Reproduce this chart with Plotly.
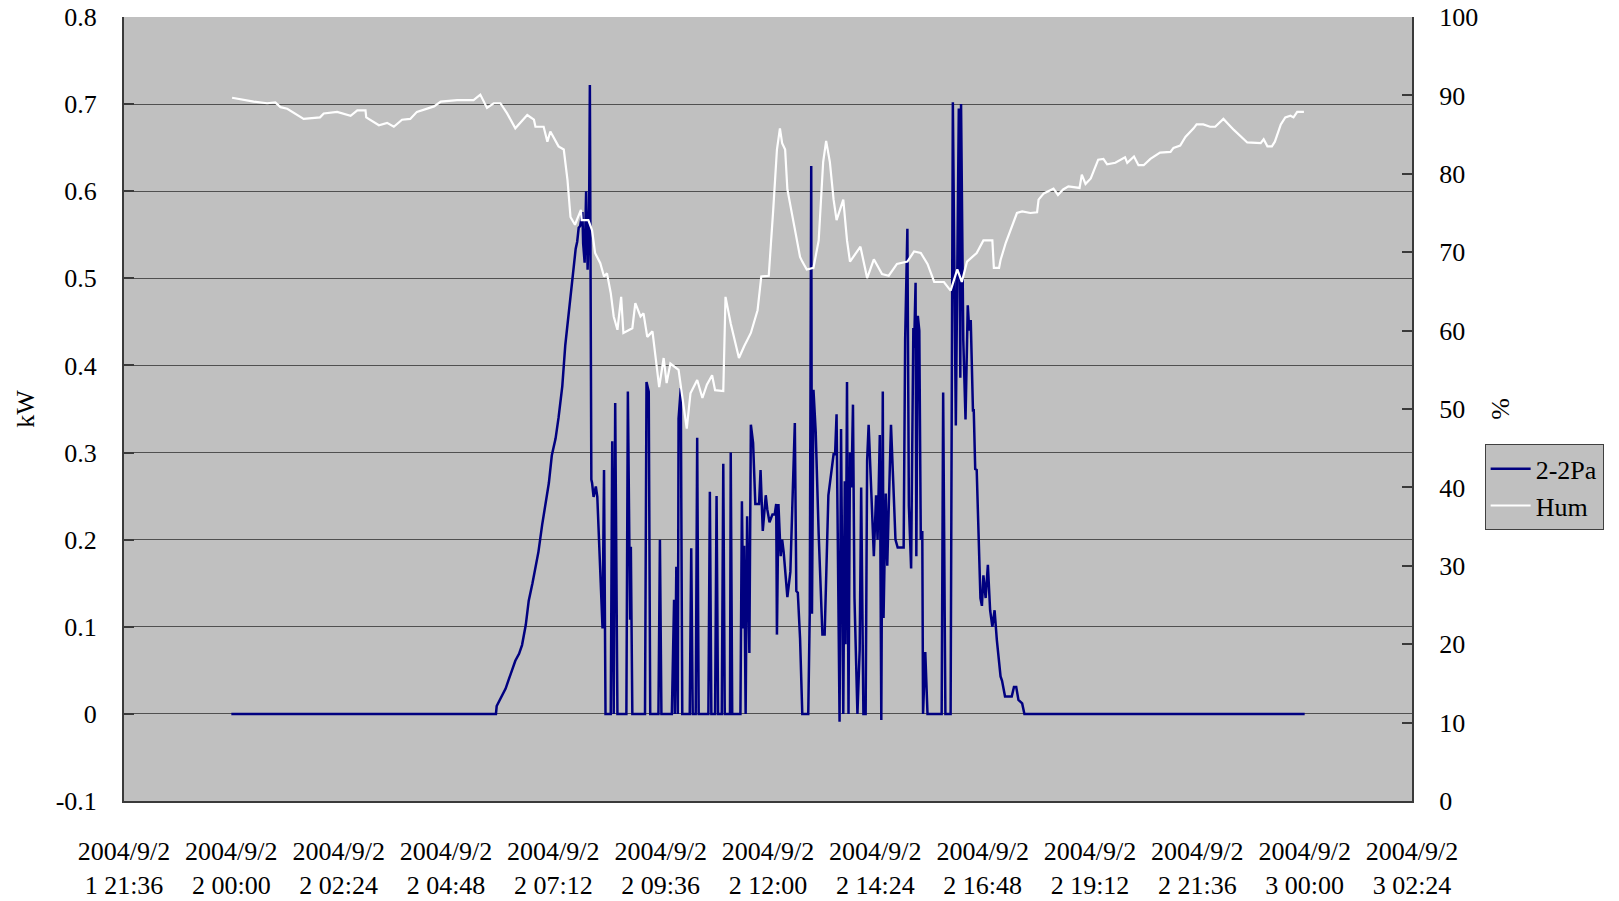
import plotly.graph_objects as go

# ---- data (time in minutes after 2004/9/22 00:00) ----
pa_minutes = [0, 352, 355, 356, 362, 368, 372, 377, 381, 386, 390, 395, 399, 404, 408, 412, 417, 421,
              426, 430, 435, 439, 444, 448, 453, 455, 459, 462, 464, 466, 468, 471, 472, 474, 476,
              478, 480, 481, 483, 484, 486, 489, 491, 494, 498, 500, 502, 509, 511, 513, 515, 518,
              530, 532, 535, 536, 538, 555, 557, 560, 562, 573, 575, 577, 591, 594, 595, 597, 599,
              600, 603, 605, 615, 617, 619, 623, 625, 627, 640, 642, 644, 649, 651, 653, 658, 660,
              662, 669, 670, 672, 683, 685, 687, 688, 690, 692, 695, 697, 700, 703, 708, 710, 713,
              717, 719, 722, 726, 729, 731, 732, 734, 737, 739, 741, 746, 750, 756, 758, 760, 763,
              766, 774, 776, 778, 779, 781, 784, 788, 793, 796, 801, 808, 810, 812, 814, 816, 818,
              821, 823, 824, 826, 828, 830, 832, 834, 836, 840, 843, 845, 848, 851, 853, 855, 860,
              862, 865, 867, 870, 872, 874, 875, 878, 880, 882, 885, 888, 891, 894, 902, 904, 907,
              909, 912, 915, 916, 918, 919, 921, 923, 925, 927, 928, 931, 934, 953, 955, 958, 965,
              968, 972, 976, 978, 979, 982, 985, 988, 990, 992, 995, 996, 998, 1000, 1005, 1007,
              1009, 1012, 1015, 1018, 1021, 1024, 1027, 1032, 1034, 1038, 1047, 1050, 1053, 1056,
              1061, 1064, 1440]
pa_kw = [0, 0, 0, 0.009, 0.019, 0.029, 0.039, 0.051, 0.061, 0.069, 0.079, 0.102, 0.130, 0.150, 0.166,
         0.186, 0.217, 0.241, 0.265, 0.297, 0.316, 0.340, 0.376, 0.423, 0.463, 0.472, 0.510, 0.534,
         0.542, 0.558, 0.560, 0.576, 0.540, 0.518, 0.600, 0.510, 0.580, 0.722, 0.269, 0.265, 0.249,
         0.261, 0.249, 0.178, 0.098, 0.280, 0, 0, 0.313, 0, 0.357, 0,
         0, 0.370, 0.108, 0.192, 0, 0, 0.381, 0.370, 0, 0, 0.200, 0, 0, 0.131, 0, 0.169, 0,
         0.339, 0.374, 0, 0, 0.190, 0, 0, 0.317, 0, 0, 0.255, 0, 0, 0.250, 0, 0, 0.287,
         0, 0, 0.300, 0, 0, 0.244, 0.098, 0.193, 0, 0.227, 0.070, 0.332, 0.311, 0.241, 0.241, 0.280, 0.210,
         0.251, 0.235, 0.220, 0.229, 0.229, 0.241, 0.091, 0.241, 0.181, 0.200, 0.186, 0.134, 0.163, 0.334, 0.141, 0.139, 0.087,
         0, 0, 0.115, 0.629, 0.115, 0.372, 0.324, 0.206, 0.091, 0.091, 0.251, 0.298, 0.298, 0.344, 0.150, -0.009, 0.327,
         0, 0.267, 0.080, 0.381, 0, 0.300, 0.260, 0.355, 0.134, 0, 0.074, 0.260, 0, 0, 0.291, 0.332, 0.220,
         0.181, 0.251, 0.200, 0.320, -0.007, 0.370, 0.110, 0.253, 0.170, 0.237, 0.332, 0.267, 0.200, 0.191, 0.191, 0.430, 0.557,
         0.239, 0.167, 0.443, 0.420, 0.495, 0.181, 0.457, 0.440, 0.200, 0.210, 0, 0.071, 0, 0, 0.369, 0, 0,
         0.702, 0.331, 0.695, 0.386, 0.700, 0.429, 0.338, 0.469, 0.440, 0.452, 0.347, 0.350, 0.281, 0.280, 0.133, 0.124,
         0.159, 0.133, 0.171, 0.119, 0.100, 0.119, 0.085, 0.043, 0.038, 0.020, 0.020, 0.031, 0.031, 0.016,
         0.012, 0, 0]

hum_minutes = [1, 30, 48, 59, 66, 75, 97, 119, 124, 142, 160, 169, 180, 181, 198, 209, 218, 229, 240,
               249, 272, 281, 303, 325, 334, 343, 352, 361, 370, 381, 397, 406, 408, 415, 419, 424,
               428, 439, 446, 451, 455, 461, 469, 470, 479, 484, 488, 495, 500, 504, 509, 513, 518,
               523, 526, 538, 542, 549, 553, 558, 565, 574, 580, 584, 589, 600, 607, 611, 616, 625,
               632, 638, 645, 649, 660, 663, 670, 681, 688, 697, 706, 711, 721, 723, 727, 732, 736,
               739, 743, 746, 754, 763, 766, 772, 781, 788, 794, 798, 803, 808, 812, 821, 826, 830,
               844, 853, 862, 873, 882, 893, 907, 916, 925, 934, 943, 956, 965, 974, 980, 987, 1000,
               1009, 1021, 1023, 1030, 1032, 1039, 1045, 1054, 1061, 1072, 1081, 1083, 1090, 1103,
               1109, 1116, 1123, 1138, 1141, 1146, 1153, 1163, 1170, 1175, 1186, 1199, 1202, 1211,
               1217, 1224, 1233, 1246, 1260, 1264, 1273, 1280, 1291, 1295, 1304, 1313, 1320, 1331,
               1338, 1345, 1363, 1381, 1385, 1390, 1396, 1400, 1408, 1414, 1421, 1425, 1430, 1439]
hum_pct = [89.7, 89.2, 89.0, 89.1, 88.5, 88.3, 87.0, 87.2, 87.7, 87.9, 87.4, 88.1, 88.1, 87.2, 86.2,
           86.5, 86.0, 86.9, 87.0, 87.9, 88.6, 89.2, 89.4, 89.4, 90.1, 88.4, 89.0, 89.0, 87.7, 85.8,
           87.5, 86.9, 86.0, 86.0, 86.0, 84.1, 85.4, 83.5, 83.1, 79.2, 74.5, 73.5, 75.4, 74.1, 74.1,
           72.8, 69.9, 68.6, 66.9, 67.3, 64.8, 61.8, 60.1, 64.3, 59.7, 60.3, 63.5, 61.8, 62.2, 59.2,
           59.9, 52.8, 56.5, 53.3, 55.8, 55.0, 50.3, 47.5, 52.0, 53.7, 51.4, 53.1, 54.3, 52.4, 52.3,
           64.3, 60.9, 56.5, 58.0, 59.7, 62.6, 66.9, 67.0, 70.3, 75.4, 83.1, 85.8, 83.9, 83.1, 78.0,
           74.1, 69.4, 68.8, 67.8, 68.0, 71.5, 81.5, 84.2, 81.5, 76.7, 74.1, 76.7, 71.5, 68.8, 70.7,
           66.7, 69.1, 67.2, 67.0, 68.5, 68.8, 70.1, 69.9, 68.5, 66.2, 66.2, 65.1, 67.8, 66.2, 68.8,
           69.9, 71.5, 71.5, 68.0, 68.0, 69.0, 71.2, 72.8, 75.0, 75.2, 75.0, 75.1, 76.7, 77.5, 78.1,
           77.3, 78.0, 78.4, 78.2, 79.9, 78.7, 79.4, 81.8, 81.9, 81.2, 81.4, 82.1, 81.4, 82.2, 81.1,
           81.1, 81.9, 82.7, 82.8, 83.3, 83.6, 84.7, 85.8, 86.3, 86.3, 86.0, 86.0, 87.0, 86.3, 85.6,
           84.0, 83.9, 84.4, 83.5, 83.5, 84.1, 86.3, 87.2, 87.4, 87.2, 87.9, 87.9]

x_tick_minutes = [-144, 0, 144, 288, 432, 576, 720, 864, 1008, 1152, 1296, 1440, 1584]
x_tick_labels = ["2004/9/2<br>1 21:36", "2004/9/2<br>2 00:00", "2004/9/2<br>2 02:24",
                 "2004/9/2<br>2 04:48", "2004/9/2<br>2 07:12", "2004/9/2<br>2 09:36",
                 "2004/9/2<br>2 12:00", "2004/9/2<br>2 14:24", "2004/9/2<br>2 16:48",
                 "2004/9/2<br>2 19:12", "2004/9/2<br>2 21:36", "2004/9/2<br>3 00:00",
                 "2004/9/2<br>3 02:24"]
kw_ticks = [-0.1, 0, 0.1, 0.2, 0.3, 0.4, 0.5, 0.6, 0.7, 0.8]
kw_tick_labels = ["-0.1", "0", "0.1", "0.2", "0.3", "0.4", "0.5", "0.6", "0.7", "0.8"]
pct_ticks = [0, 10, 20, 30, 40, 50, 60, 70, 80, 90, 100]

FONT = "Liberation Serif, Times New Roman, serif"
FS = 26
AXC = "#3a3a3a"

fig = go.Figure()
fig.add_trace(go.Scatter(x=hum_minutes, y=hum_pct, name="Hum", mode="lines",
                         line=dict(color="#FFFFFF", width=2.2), yaxis="y2", legendrank=2))
fig.add_trace(go.Scatter(x=pa_minutes, y=pa_kw, name="2-2Pa", mode="lines",
                         line=dict(color="#000080", width=2.5), legendrank=1))

fig.update_layout(
    width=1619, height=901,
    margin=dict(l=124, r=207, t=17, b=100, pad=0, autoexpand=False),
    paper_bgcolor="white", plot_bgcolor="#C0C0C0",
    font=dict(family=FONT, size=FS, color="black"),
    xaxis=dict(range=[-144, 1584], tickvals=x_tick_minutes, ticktext=x_tick_labels,
               showgrid=False, zeroline=False, showline=True, linecolor=AXC, linewidth=2,
               ticks="", ticklabelstandoff=26, automargin=False,
               tickfont=dict(family=FONT, size=FS)),
    xaxis2=dict(range=[-144, 1584], tickvals=x_tick_minutes, overlaying="x",
                anchor="free", position=1/9, showticklabels=False, showgrid=False,
                zeroline=False, showline=False, ticks="inside", ticklen=10,
                tickcolor=AXC, tickwidth=1.5, automargin=False),
    yaxis=dict(range=[-0.1, 0.8], tickvals=kw_ticks, ticktext=kw_tick_labels,
               showgrid=True, gridcolor="#505050", gridwidth=1, zeroline=False,
               showline=True, linecolor=AXC, linewidth=2, mirror=False,
               ticks="inside", ticklen=10, tickcolor=AXC, tickwidth=1.5,
               ticklabelstandoff=20, automargin=False,
               title=dict(text="kW", standoff=14, font=dict(family=FONT, size=FS))),
    yaxis2=dict(range=[0, 100], tickvals=pct_ticks, overlaying="y", side="right",
                showgrid=False, zeroline=False, showline=True, linecolor=AXC, linewidth=2,
                ticks="inside", ticklen=10, tickcolor=AXC, tickwidth=1.5,
                ticklabelstandoff=20, automargin=False,
                title=dict(text="%", standoff=14, font=dict(family=FONT, size=FS))),
    legend=dict(x=1.0564, y=0.455, xanchor="left", yanchor="top",
                bgcolor="#C0C0C0", bordercolor="#404040", borderwidth=1,
                font=dict(family=FONT, size=FS), tracegroupgap=0, itemwidth=40),
    showlegend=True,
)

fig.write_html("out.html")
